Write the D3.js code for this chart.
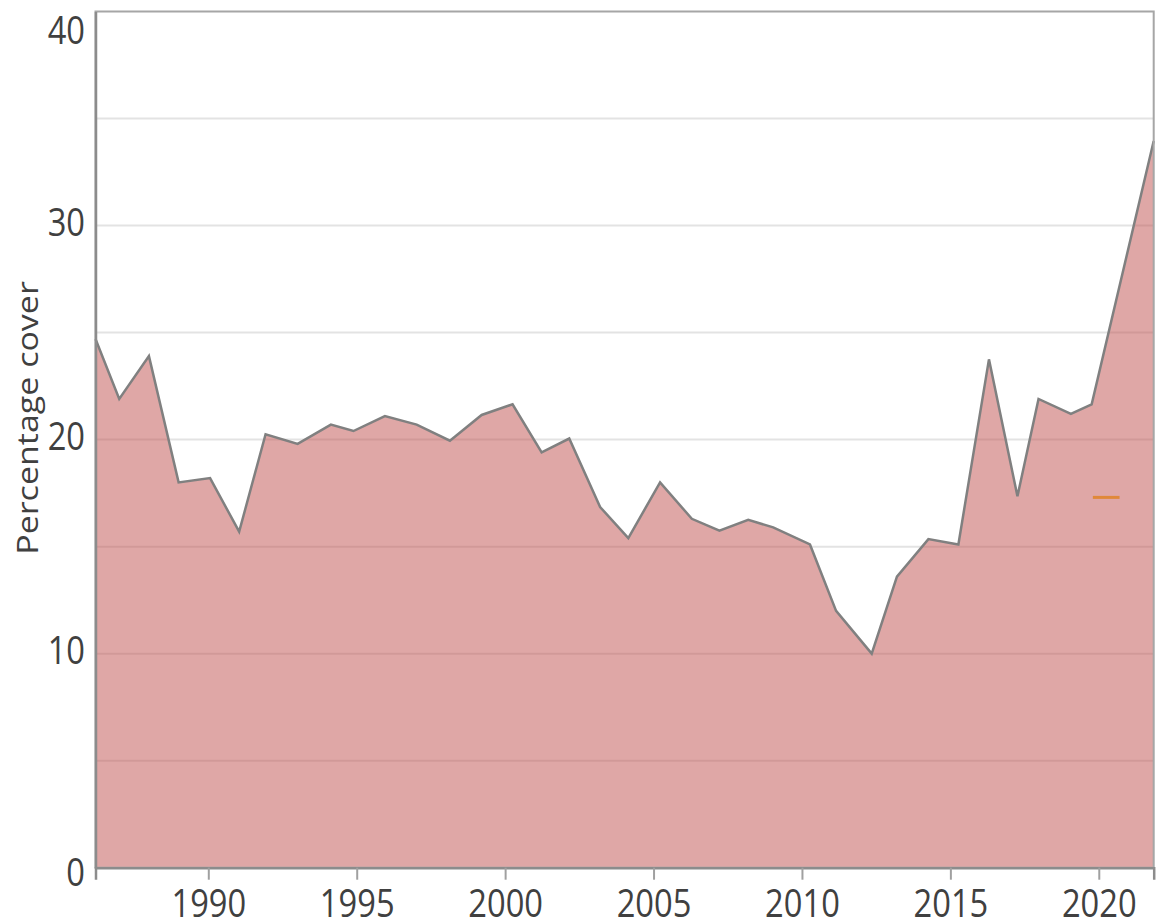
<!DOCTYPE html>
<html>
<head>
<meta charset="utf-8">
<script src="https://cdn.jsdelivr.net/npm/d3@7"></script>
<style>
  html, body { margin: 0; padding: 0; background: #fff; }
  svg { display: block; }
  text { font-family: "Open Sans", "Noto Sans", sans-serif; fill: #404040; }
</style>
</head>
<body>
<svg id="chart" width="1157" height="924"></svg>
<script>
// ---- data ----
const years = [1986.2, 1987.0, 1988.0, 1989.0, 1990.06, 1991.04, 1991.93, 1993.01, 1994.13, 1994.89,
  1995.95, 1997.02, 1998.14, 1999.21, 2000.25, 2001.23, 2002.16, 2003.2, 2004.15, 2005.22,
  2006.29, 2007.22, 2008.19, 2009.03, 2010.27, 2011.15, 2012.35, 2013.2, 2014.26, 2015.27,
  2016.3, 2017.26, 2017.97, 2019.06, 2019.76, 2021.85];
const cover = [24.7, 21.9, 23.9, 18.0, 18.2, 15.7, 20.25, 19.8, 20.7, 20.4,
  21.1, 20.7, 19.95, 21.15, 21.65, 19.4, 20.05, 16.85, 15.4, 18.0,
  16.3, 15.75, 16.25, 15.9, 15.1, 12.0, 10.0, 13.6, 15.35, 15.1,
  23.75, 17.35, 21.9, 21.2, 21.65, 33.95];
const markerStart = [2019.8];
const markerEnd = [2020.7];
const markerValue = [17.3];
const xTicks = [1990, 1995, 2000, 2005, 2010, 2015, 2020];
const yGrid = [5, 10, 15, 20, 25, 30, 35];
const yTicks = [0, 10, 20, 30, 40];
const yTitle = "Percentage cover";

const data = years.map((yr, i) => ({ x: yr, v: cover[i] }));

const svg = d3.select("#chart");
const pLeft = 95.5, pRight = 1153.7, pTop = 11.5, pBottom = 867.7;
const squeeze = 0.86;   // reference text is horizontally condensed

const x = d3.scaleLinear().domain([1986.2, 2021.85]).range([pLeft, pRight]);
const y = d3.scaleLinear().domain([0, 40]).range([pBottom, pTop]);

// gridlines
svg.append("g").selectAll("line").data(yGrid).join("line")
  .attr("x1", pLeft).attr("x2", pRight)
  .attr("y1", d => y(d)).attr("y2", d => y(d))
  .attr("stroke", "#e3e3e3").attr("stroke-width", 2);

// area
const area = d3.area().x(d => x(d.x)).y0(y(0)).y1(d => y(d.v));
svg.append("path").datum(data)
  .attr("d", area)
  .attr("fill", "#c0504d").attr("fill-opacity", 0.5);

const line = d3.line().x(d => x(d.x)).y(d => y(d.v));
svg.append("path").datum(data)
  .attr("d", line)
  .attr("fill", "none").attr("stroke", "#808080").attr("stroke-width", 2.5)
  .attr("stroke-linejoin", "miter");

// orange marker
svg.append("g").selectAll("line").data(markerValue).join("line")
  .attr("x1", (d, i) => x(markerStart[i])).attr("x2", (d, i) => x(markerEnd[i]))
  .attr("y1", d => y(d)).attr("y2", d => y(d))
  .attr("stroke", "#e0883a").attr("stroke-width", 3);

// plot frame
svg.append("rect")
  .attr("x", pLeft).attr("y", pTop).attr("width", pRight - pLeft).attr("height", pBottom - pTop)
  .attr("fill", "none").attr("stroke", "#a6a6a6").attr("stroke-width", 2);

// x axis
const xAxis = d3.axisBottom(x).tickValues(xTicks).tickFormat(d3.format("d")).tickSize(12).tickPadding(10);
const gx = svg.append("g").attr("transform", `translate(0,${pBottom})`).call(xAxis);
gx.select(".domain").attr("stroke", "#8c8c8c").attr("stroke-width", 2.5);
gx.selectAll(".tick line").attr("stroke", "#a0a0a0").attr("stroke-width", 2);
gx.selectAll(".tick text").attr("font-size", 38).attr("fill", "#404040")
  .attr("font-family", "'Open Sans', sans-serif").attr("dy", "0.71em")
  .attr("transform", `scale(${squeeze},1)`);

// y axis
const yAxis = d3.axisLeft(y).tickValues(yTicks).tickFormat(d3.format("d")).tickSize(0).tickPadding(10);
const gy = svg.append("g").attr("transform", `translate(${pLeft},0)`).call(yAxis);
gy.select(".domain").attr("stroke", "#8c8c8c").attr("stroke-width", 2.5);
gy.selectAll(".tick text").attr("font-size", 38).attr("fill", "#404040")
  .attr("font-family", "'Open Sans', sans-serif")
  .attr("x", -10.5 / squeeze)
  .attr("transform", `scale(${squeeze},1)`)
  .attr("dy", d => d === 40 ? "0.84em" : d === 0 ? "0.48em" : "0.26em");

// y title
svg.append("text")
  .attr("transform", `translate(38,418) rotate(-90) scale(1,${squeeze})`)
  .attr("text-anchor", "middle")
  .attr("font-size", 34)
  .text(yTitle);
</script>
</body>
</html>
